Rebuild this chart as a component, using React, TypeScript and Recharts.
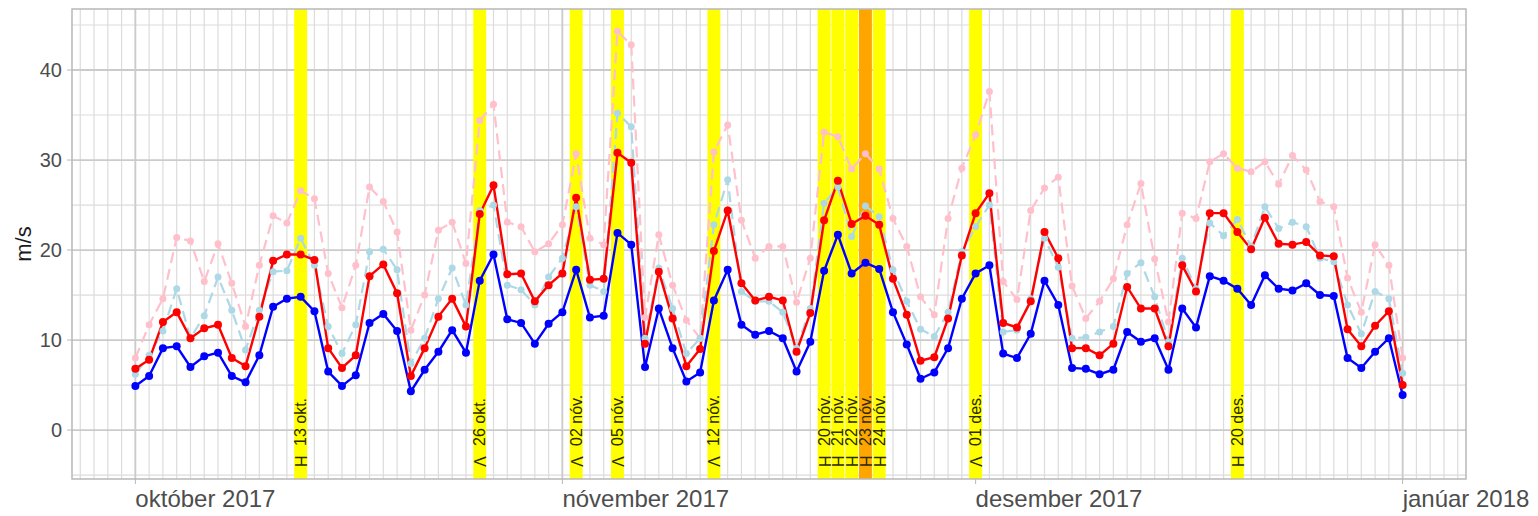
import React from 'react'
import { ComposedChart, Line, XAxis, YAxis, CartesianGrid, ReferenceArea } from 'recharts'

// daily values from 1 Oct 2017 (index 0) to 1 Jan 2018 (index 92), m/s
const blue = [
  4.9, 6.0, 9.1, 9.3, 7.0, 8.2, 8.6, 6.0, 5.3, 8.3,
  13.7, 14.6, 14.8, 13.2, 6.5, 4.9, 6.1, 11.9, 12.9, 11.0,
  4.3, 6.7, 8.7, 11.1, 8.6, 16.6, 19.5, 12.3, 11.9, 9.6,
  11.8, 13.1, 17.8, 12.5, 12.7, 21.9, 20.6, 7.0, 13.5, 9.1,
  5.4, 6.4, 14.4, 17.8, 11.7, 10.6, 11.0, 10.2, 6.5, 9.8,
  17.7, 21.7, 17.4, 18.6, 17.9, 13.1, 9.5, 5.7, 6.4, 9.1,
  14.6, 17.4, 18.3, 8.5, 8.0, 10.7, 16.6, 13.9, 6.9, 6.8,
  6.2, 6.7, 10.9, 9.8, 10.2, 6.7, 13.5, 11.4, 17.1, 16.6,
  15.7, 13.9, 17.2, 15.7, 15.5, 16.3, 15.0, 14.9, 8.0, 6.9,
  8.7, 10.2, 3.9,
]
const red = [
  6.8, 7.8, 12.0, 13.1, 10.2, 11.3, 11.7, 8.0, 7.1, 12.6,
  18.8, 19.5, 19.5, 18.9, 9.1, 6.9, 8.3, 17.1, 18.4, 15.2,
  6.0, 9.1, 12.6, 14.6, 11.5, 24.0, 27.2, 17.3, 17.4, 14.3,
  16.1, 17.4, 25.8, 16.7, 16.8, 30.8, 29.7, 9.6, 17.6, 12.4,
  7.1, 9.0, 19.9, 24.4, 16.3, 14.4, 14.8, 14.4, 8.7, 13.0,
  23.3, 27.7, 22.9, 23.8, 22.8, 16.8, 12.8, 7.7, 8.1, 12.4,
  19.4, 24.1, 26.3, 11.9, 11.4, 14.3, 22.0, 19.1, 9.1, 9.1,
  8.3, 9.6, 15.9, 13.5, 13.5, 9.3, 18.3, 15.4, 24.1, 24.1,
  22.0, 20.1, 23.6, 20.7, 20.6, 20.9, 19.4, 19.3, 11.2, 9.3,
  11.6, 13.2, 5.0,
]
const lightBlue = [
  6.2, 8.3, 11.0, 15.7, 10.2, 12.7, 17.0, 13.3, 8.9, 13.3,
  17.6, 17.7, 21.3, 18.3, 11.5, 8.5, 11.7, 19.8, 20.1, 17.8,
  7.4, 10.2, 14.6, 18.0, 13.9, 24.4, 25.0, 16.1, 15.6, 13.9,
  17.0, 19.1, 24.8, 16.1, 15.4, 35.2, 33.7, 10.2, 18.0, 13.5,
  8.5, 10.2, 22.8, 27.8, 15.4, 14.3, 14.3, 13.1, 9.1, 13.5,
  25.2, 27.0, 21.5, 24.9, 23.7, 17.8, 14.3, 11.2, 10.4, 13.1,
  19.8, 22.6, 25.0, 10.9, 11.1, 14.6, 21.3, 18.1, 10.2, 10.3,
  10.9, 11.5, 17.4, 18.6, 14.8, 9.8, 19.1, 15.7, 23.0, 21.6,
  23.4, 20.4, 24.8, 22.4, 23.1, 22.6, 19.1, 18.7, 13.9, 10.7,
  15.4, 14.6, 6.3,
]
const pink = [
  8.0, 11.7, 14.6, 21.4, 21.0, 16.5, 20.7, 16.3, 11.5, 18.3,
  23.8, 23.0, 26.6, 25.7, 17.4, 13.6, 18.3, 27.0, 25.4, 22.0,
  11.1, 15.0, 22.2, 23.1, 18.5, 34.4, 36.2, 23.1, 22.6, 19.8,
  20.7, 22.8, 30.7, 21.3, 20.6, 44.3, 42.8, 12.5, 21.7, 16.1,
  12.2, 10.2, 30.9, 33.9, 23.3, 19.1, 20.4, 20.4, 14.2, 19.1,
  33.1, 32.6, 29.0, 30.7, 29.0, 23.5, 20.4, 14.8, 12.8, 23.5,
  29.1, 32.8, 37.6, 16.5, 14.5, 24.4, 26.9, 28.1, 16.0, 12.4,
  14.3, 16.8, 22.8, 27.4, 19.0, 12.0, 24.1, 23.5, 29.8, 30.7,
  29.1, 28.7, 29.8, 27.3, 30.5, 28.9, 25.4, 24.8, 16.9, 13.1,
  20.6, 18.3, 8.0,
]

const monthTicks = [0, 31, 61, 92]
const monthLabels = ['október 2017', 'nóvember 2017', 'desember 2017', 'janúar 2018']
const yTicks = [0, 10, 20, 30, 40]
const yMinor = [-5, 5, 15, 25, 35, 45]

// warnings
const eventDays = [12, 25, 32, 35, 42, 50, 51, 52, 53, 54, 61, 80]
const eventLabels = ['13 okt.', '26 okt.', '02 nóv.', '05 nóv.', '12 nóv.', '20 nóv.', '21 nóv.', '22 nóv.', '23 nóv.', '24 nóv.', '01 des.', '20 des.']
const eventCodes = ['H', 'V', 'V', 'V', 'V', 'H', 'H', 'H', 'H', 'H', 'V', 'H']
const eventLevels = ['gul', 'gul', 'gul', 'gul', 'gul', 'gul', 'gul', 'gul', 'appelsínugul', 'gul', 'gul', 'gul']

const data = blue.map((b, i) => ({ day: i, blue: b, red: red[i], lightBlue: lightBlue[i], pink: pink[i] }))

const X_MIN = -4.6
const X_MAX = 96.6
const Y_MIN = -5.44
const Y_MAX = 46.78

const FONT = '"Liberation Sans", Arial, sans-serif'
const TEXT = '#4d4d4d'
const GRID_MAJOR = '#cbcbcb'
const GRID_MINOR = '#dcdcdc'
const BORDER = '#b8b8b8'
const LABEL_INK = '#2a2a00'
const LEVEL_COLOR: Record<string, string> = { gul: '#ffff00', 'appelsínugul': '#ffa500' }

const minorDays = Array.from({ length: 101 }, (_, i) => i - 4)

function XTick({ x, y, payload }: any) {
  const i = monthTicks.indexOf(payload.value)
  return (
    <text x={x} y={y + 21} fontSize={24} fill={TEXT} fontFamily={FONT} textAnchor="start">
      {monthLabels[i]}
    </text>
  )
}

function bandLabel(i: number) {
  return (props: any) => {
    const vb = props.viewBox
    const cx = vb.x + vb.width / 2
    const bottom = vb.y + vb.height - 12
    return (
      <g>
        {/* code letter is turned the other way round, as in the original */}
        <text transform={`translate(${cx - 5.5},${bottom}) rotate(90)`} textAnchor="end" fontSize={16} fill={LABEL_INK} fontFamily={FONT}>
          {eventCodes[i]}
        </text>
        <text transform={`translate(${cx + 5.5},${bottom - 21}) rotate(-90)`} fontSize={16} fill={LABEL_INK} fontFamily={FONT}>
          {eventLabels[i]}
        </text>
      </g>
    )
  }
}

export default function App() {
  return (
    <div style={{ position: 'absolute', left: 0, top: 0, width: 1538, height: 516, background: '#fff' }}>
      <ComposedChart width={1538} height={516} data={data} margin={{ top: 9, right: 72, bottom: 0, left: 0 }}>
        <CartesianGrid verticalValues={minorDays} horizontalValues={yMinor} stroke={GRID_MINOR} strokeWidth={1.2} />
        <CartesianGrid verticalValues={monthTicks} horizontalValues={yTicks} stroke={GRID_MAJOR} strokeWidth={1.8} />
        <XAxis
          dataKey="day"
          type="number"
          domain={[X_MIN, X_MAX]}
          ticks={monthTicks}
          allowDataOverflow
          height={37}
          axisLine={false}
          tickLine={{ stroke: BORDER }}
          tickSize={5}
          tick={<XTick />}
          interval={0}
        />
        <YAxis
          type="number"
          domain={[Y_MIN, Y_MAX]}
          ticks={yTicks}
          allowDataOverflow
          width={72}
          axisLine={false}
          tickLine={{ stroke: BORDER }}
          tickSize={5}
          tickMargin={5}
          tick={{ fontSize: 20, fill: TEXT, fontFamily: FONT }}
          interval={0}
          label={{
            content: (p: any) => {
              const vb = p.viewBox
              const cy = vb.y + vb.height / 2
              return (
                <text transform={`translate(31,${cy}) rotate(-90)`} textAnchor="middle" fontSize={22} fill="#1a1a1a" fontFamily={FONT}>
                  m/s
                </text>
              )
            },
          }}
        />
        {eventDays.map((d, i) => (
          <ReferenceArea
            key={d}
            x1={d - 0.47}
            x2={d + 0.47}
            y1={Y_MIN}
            y2={Y_MAX}
            fill={LEVEL_COLOR[eventLevels[i]]}
            fillOpacity={1}
            stroke="none"
            ifOverflow="visible"
            zIndex={-50}
            label={bandLabel(i)}
          />
        ))}
        <Line dataKey="pink" stroke="#ffc0cb" strokeWidth={2.2} strokeDasharray="11 6" isAnimationActive={false}
          dot={{ r: 3.5, fill: '#ffc0cb', stroke: 'none', strokeDasharray: 'none' }} activeDot={false} />
        <Line dataKey="lightBlue" stroke="#add8e6" strokeWidth={2.2} strokeDasharray="11 6" isAnimationActive={false}
          dot={{ r: 3.5, fill: '#add8e6', stroke: 'none', strokeDasharray: 'none' }} activeDot={false} />
        <Line dataKey="red" stroke="#ff0000" strokeWidth={2.4} isAnimationActive={false}
          dot={{ r: 4, fill: '#ff0000', stroke: 'none' }} activeDot={false} />
        <Line dataKey="blue" stroke="#0000ff" strokeWidth={2.4} isAnimationActive={false}
          dot={{ r: 4, fill: '#0000ff', stroke: 'none' }} activeDot={false} />
        <ReferenceArea x1={X_MIN} x2={X_MAX} y1={Y_MIN} y2={Y_MAX} fill="none" stroke={BORDER} strokeWidth={1.5} ifOverflow="visible" />
      </ComposedChart>
    </div>
  )
}
